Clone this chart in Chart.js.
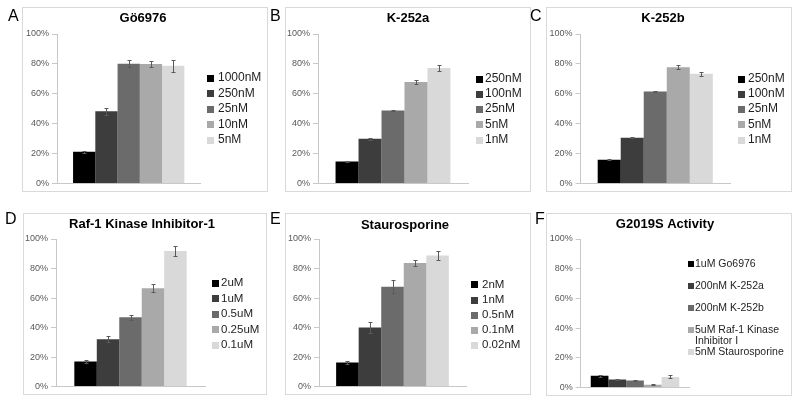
<!DOCTYPE html>
<html><head><meta charset="utf-8">
<script src="https://cdn.jsdelivr.net/npm/chart.js@4.4.1/dist/chart.umd.min.js"></script>
<style>
html,body{margin:0;padding:0;background:#fff;}
body{width:800px;height:405px;position:relative;overflow:hidden;font-family:"Liberation Sans",Arial,sans-serif;}
.wrap{position:absolute;}
.wrap canvas{position:absolute;left:0;top:0;}
.frame{position:absolute;left:0;top:0;right:0;bottom:0;border:1px solid #d9d9d9;box-sizing:border-box;pointer-events:none;}
.letter{position:absolute;font-size:16px;line-height:16px;color:#000;font-family:"Liberation Sans",Arial,sans-serif;}
</style></head><body>
<script>
// ---------- data ----------
const letters = ['A','B','C','D','E','F'];
const titles = ['Gö6976','K-252a','K-252b','Raf-1 Kinase Inhibitor-1','Staurosporine','G2019S Activity'];

const seriesA = ['1000nM','250nM','25nM','10nM','5nM'];
const valuesA = [21.3, 48.3, 80.1, 79.9, 78.8];
const errorsA = [0.6, 2.3, 2.4, 2.2, 4.0];

const seriesB = ['250nM','100nM','25nM','5nM','1nM'];
const valuesB = [14.8, 29.9, 48.8, 67.9, 77.2];
const errorsB = [0.4, 0.8, 0.6, 1.5, 1.9];

const seriesC = ['250nM','100nM','25nM','5nM','1nM'];
const valuesC = [16.0, 30.7, 61.6, 77.8, 73.5];
const errorsC = [0.3, 0.4, 0.6, 1.2, 1.3];

const seriesD = ['2uM','1uM','0.5uM','0.25uM','0.1uM'];
const valuesD = [17.0, 32.0, 47.0, 66.7, 91.9];
const errorsD = [0.8, 2.0, 1.6, 2.5, 3.2];

const seriesE = ['2nM','1nM','0.5nM','0.1nM','0.02nM'];
const valuesE = [16.3, 40.0, 67.6, 83.7, 88.8];
const errorsE = [0.8, 3.5, 4.5, 2.3, 3.0];

const seriesF = ['1uM Go6976','200nM K-252a','200nM K-252b','5uM Raf-1 Kinase Inhibitor I','5nM Staurosporine'];
const valuesF = [8.0, 5.4, 4.8, 2.0, 7.2];
const errorsF = [0.6, 0.3, 0.4, 0.3, 1.0];

const yTickValues = [0, 20, 40, 60, 80, 100];
const yTickLabels = ['0%','20%','40%','60%','80%','100%'];

// ---------- styles / layout ----------
const barColors = ['#000000','#3d3d3d','#6b6b6b','#a9a9a9','#d9d9d9'];
const FONT = '"Liberation Sans", Arial, sans-serif';

const panels = [
  {series: seriesA, values: valuesA, errors: errorsA},
  {series: seriesB, values: valuesB, errors: errorsB},
  {series: seriesC, values: valuesC, errors: errorsC},
  {series: seriesD, values: valuesD, errors: errorsD},
  {series: seriesE, values: valuesE, errors: errorsE},
  {series: seriesF, values: valuesF, errors: errorsF}
];

const layouts = [
  {box:[22,7,246,185],  area:[57,34,200.4,184],  frac:0.776, title:[143,18],  letter:[8,8],
   leg:{sq:207, tx:218, ys:[78,93.5,109,124.5,140], font:12, size:7, lh:12, maxW:200}},
  {box:[285,7,246,185], area:[318,34,468,184],   frac:0.766, title:[408,18],  letter:[270,8],
   leg:{sq:476, tx:485, ys:[79,94,109,124.5,140], font:12, size:7, lh:12, maxW:200}},
  {box:[546,7,246,185], area:[580.5,34,730,184], frac:0.77,  title:[663,18],  letter:[530,8],
   leg:{sq:738, tx:748, ys:[79,94,109,124.5,140], font:12, size:7, lh:12, maxW:200}},
  {box:[23,213,244,182],area:[56,239,205,389],   frac:0.754, title:[142,224], letter:[5,211],
   leg:{sq:212, tx:221, ys:[283,298.5,314,329.5,345], font:11.5, size:7, lh:12, maxW:200}},
  {box:[285,213,246,182],area:[319,239,466,389], frac:0.767, title:[405,225], letter:[270,211],
   leg:{sq:471, tx:482, ys:[284.5,300,315,330,345], font:11.5, size:7, lh:12, maxW:200}},
  {box:[546,213,246,183],area:[580.7,239,689.3,389], frac:0.815, title:[665,224], letter:[535,211],
   leg:{sq:688, tx:695, ys:[264,286,308,330,352], font:10.5, size:6, lh:11, maxW:92}}
];

// ---------- plugins ----------
function wrapText(ctx, text, maxW) {
  const words = text.split(' ');
  const lines = [];
  let cur = '';
  words.forEach(w => {
    const t = cur ? cur + ' ' + w : w;
    if (cur && ctx.measureText(t).width > maxW) { lines.push(cur); cur = w; }
    else cur = t;
  });
  if (cur) lines.push(cur);
  return lines;
}

const errorBarPlugin = {
  id: 'errorBars',
  afterDatasetsDraw(chart) {
    const ctx = chart.ctx, ys = chart.scales.y;
    ctx.save();
    ctx.strokeStyle = '#5a5a5a';
    ctx.lineWidth = 1;
    chart.data.datasets.forEach((ds, i) => {
      const meta = chart.getDatasetMeta(i);
      meta.data.forEach((bar, j) => {
        const v = ds.data[j], e = ds.errorValues[j];
        const x = Math.round(bar.x) + 0.5;
        const yt = Math.round(ys.getPixelForValue(v + e)) + 0.5;
        const yb = Math.round(ys.getPixelForValue(v - e)) + 0.5;
        ctx.beginPath();
        ctx.moveTo(x, yt); ctx.lineTo(x, yb);
        ctx.moveTo(x - 2, yt); ctx.lineTo(x + 2, yt);
        ctx.moveTo(x - 2, yb); ctx.lineTo(x + 2, yb);
        ctx.stroke();
      });
    });
    ctx.restore();
  }
};

const sideTextPlugin = {
  id: 'sideText',
  afterDraw(chart, args, opts) {
    const ctx = chart.ctx, L = opts.L, bx = opts.bx, by = opts.by;
    ctx.save();
    // title
    ctx.font = 'bold 13px ' + FONT;
    ctx.fillStyle = '#000';
    ctx.textAlign = 'center';
    ctx.textBaseline = 'middle';
    ctx.fillText(opts.title, opts.titleXY[0] - bx, opts.titleXY[1] - by);
    // legend
    ctx.textAlign = 'left';
    ctx.font = L.font + 'px ' + FONT;
    chart.data.datasets.forEach((ds, i) => {
      const y = L.ys[i] - by;
      ctx.fillStyle = ds.backgroundColor;
      ctx.fillRect(L.sq - bx, Math.round(y - L.size / 2), L.size, L.size);
      ctx.fillStyle = '#1e1e1e';
      const lines = wrapText(ctx, ds.label, L.maxW);
      lines.forEach((ln, k) => ctx.fillText(ln, L.tx - bx, y + k * L.lh));
    });
    ctx.restore();
  }
};

// ---------- build ----------
panels.forEach((p, idx) => {
  const lay = layouts[idx];
  const [bx, by, bw, bh] = lay.box;
  const [al, at, ar, ab] = lay.area;
  const yW = al - bx;

  const wrap = document.createElement('div');
  wrap.className = 'wrap';
  wrap.style.left = bx + 'px'; wrap.style.top = by + 'px';
  wrap.style.width = bw + 'px'; wrap.style.height = bh + 'px';
  const cv = document.createElement('canvas');
  cv.width = bw; cv.height = bh;
  cv.style.width = bw + 'px'; cv.style.height = bh + 'px';
  wrap.appendChild(cv);
  const frame = document.createElement('div');
  frame.className = 'frame';
  wrap.appendChild(frame);
  document.body.appendChild(wrap);

  const letter = document.createElement('div');
  letter.className = 'letter';
  letter.textContent = letters[idx];
  letter.style.left = lay.letter[0] + 'px';
  letter.style.top = lay.letter[1] + 'px';
  document.body.appendChild(letter);

  new Chart(cv, {
    type: 'bar',
    data: {
      labels: [''],
      datasets: p.series.map((s, i) => ({
        label: s,
        data: [p.values[i]],
        errorValues: [p.errors[i]],
        backgroundColor: barColors[i],
        borderWidth: 0,
        categoryPercentage: lay.frac,
        barPercentage: 1.0
      }))
    },
    options: {
      responsive: false,
      animation: false,
      devicePixelRatio: 1,
      layout: {
        padding: {
          left: 0,
          top: at - by,
          right: bx + bw - ar,
          bottom: by + bh - ab
        }
      },
      plugins: {
        legend: {display: false},
        title: {display: false},
        tooltip: {enabled: false},
        sideText: {L: lay.leg, bx: bx, by: by, title: titles[idx], titleXY: lay.title}
      },
      scales: {
        x: {
          grid: {display: false},
          ticks: {display: false},
          border: {display: true, color: '#c8c8c8', width: 1},
          afterFit(s) { s.height = 0; }
        },
        y: {
          min: 0, max: 100,
          afterBuildTicks(s) { s.ticks = yTickValues.map(v => ({value: v})); },
          ticks: {
            callback: (v, i) => yTickLabels[i],
            font: {size: 9, family: FONT},
            color: '#595959',
            padding: 3
          },
          grid: {display: true, drawOnChartArea: false, drawTicks: true, tickLength: 5, color: '#c8c8c8'},
          border: {display: true, color: '#c8c8c8', width: 1},
          afterFit(s) { s.width = yW; }
        }
      }
    },
    plugins: [errorBarPlugin, sideTextPlugin]
  });
});
</script>
</body></html>
